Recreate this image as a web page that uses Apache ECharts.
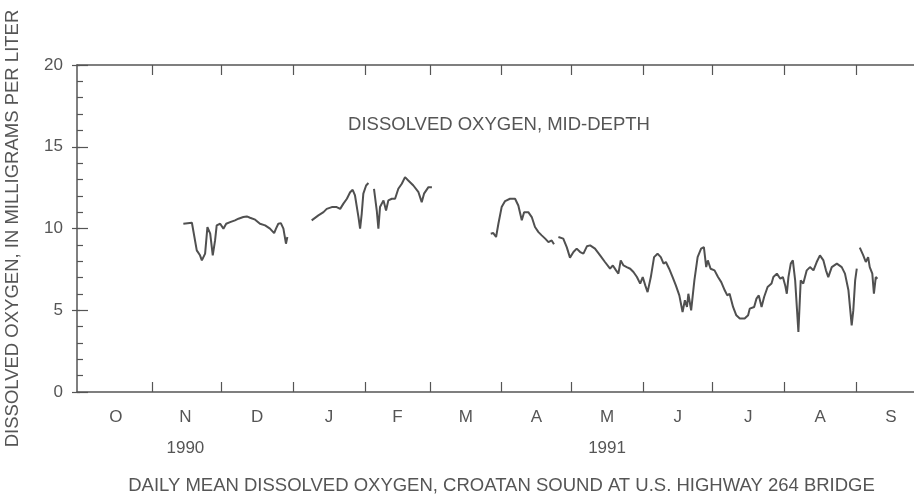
<!DOCTYPE html>
<html>
<head>
<meta charset="utf-8">
<script src="https://cdn.jsdelivr.net/npm/echarts@6/dist/echarts.min.js"></script>
<style>
html,body{margin:0;padding:0;background:#fff;}
#c{width:914px;height:496px;}
</style>
</head>
<body>
<div id="c"></div>
<script>
// Days counted from 1 Oct 1990 (day 0); values in mg/L
const monthLetters = ['O','N','D','J','F','M','A','M','J','J','A','S'];
const monthMid = [15.5,45.5,76.5,107.5,137,166.5,197,227.5,258,288.5,319.5,350];
const monthStart = [31,61,92,123,151,182,212,243,273,304,335];
const yearLabels = {1:'1990', 7:'1991'};

const segNovDec = [[44.6,10.29],[48.3,10.35],[49,10.29],[50.4,8.66],[51.8,8.36],[52.6,8.05],[54,8.46],[55,10.09],[56.2,9.68],[57.3,8.36],[58.3,9.27],[59,10.19],[60.5,10.29],[61.9,9.99],[63.1,10.29],[64.8,10.39],[66.9,10.5],[68.4,10.6],[70.5,10.7],[72,10.74],[73.4,10.66],[75.6,10.54],[77.7,10.29],[79.9,10.19],[82,9.99],[83.8,9.72],[84.6,9.99],[85.6,10.29],[86.7,10.33],[87.8,9.99],[88.9,9.07],[89.5,9.48]];
const segJan = [[100,10.5],[102.9,10.8],[105.1,11.0],[106.5,11.2],[108.7,11.31],[110.8,11.31],[112.3,11.2],[113.7,11.52],[115.2,11.82],[116.6,12.22],[117.7,12.37],[118.7,12.02],[120.2,10.7],[120.9,9.99],[121.6,10.9],[122.3,12.13],[123.5,12.63],[124.5,12.78]];
const segFeb = [[126.9,12.43],[128.1,11.1],[128.8,9.99],[129.5,11.31],[131,11.72],[132.1,11.1],[133.1,11.72],[134.6,11.82],[136,11.82],[137.4,12.43],[138.9,12.74],[140.3,13.14],[141.7,12.94],[143.9,12.63],[146.1,12.22],[147.5,11.61],[148.5,12.13],[150.4,12.53],[151.9,12.53]];
const segApr = [[177.3,9.68],[178.4,9.72],[179.6,9.48],[180.6,10.29],[182,11.31],[183.5,11.68],[185.6,11.82],[187.8,11.82],[189.2,11.41],[190.7,10.5],[191.7,11.0],[193.5,11.0],[195,10.7],[196.4,10.09],[197.9,9.78],[199.3,9.58],[200.8,9.38],[202.2,9.17],[203.6,9.27],[204.6,9.03]];
const segMayAug = [[206.5,9.48],[208.6,9.38],[210.1,8.86],[211.5,8.22],[213,8.56],[214.4,8.77],[215.9,8.56],[217.3,8.46],[218.8,8.91],[220.2,8.97],[222.3,8.77],[224.5,8.36],[226.6,7.95],[228.8,7.54],[230,7.74],[231.4,7.44],[232.4,7.24],[233.4,8.05],[234.6,7.74],[236,7.64],[237.5,7.54],[238.9,7.34],[240.4,7.03],[241.8,6.63],[242.9,7.03],[244,6.52],[245,6.11],[246.4,7.03],[247.8,8.25],[249.3,8.46],[250.7,8.25],[251.9,7.85],[252.9,7.95],[254.3,7.54],[255.8,7.03],[257.2,6.52],[258.7,5.91],[260.1,4.89],[261.1,5.61],[262,5.2],[262.6,6.01],[263.8,4.99],[264.5,5.91],[265.2,6.83],[266.6,8.25],[268.1,8.77],[269.3,8.86],[270.3,7.64],[271,8.05],[272.2,7.54],[273.9,7.44],[275.4,7.03],[276.8,6.72],[278.3,6.22],[279.4,5.91],[280.4,6.01],[281.9,5.2],[283.3,4.69],[284.8,4.49],[286.9,4.49],[288.4,4.69],[289.1,5.1],[291,5.2],[292,5.71],[293,5.91],[294.2,5.2],[295.3,5.81],[296.8,6.42],[298.5,6.63],[299.3,7.03],[300.8,7.24],[302.3,6.93],[303.4,7.03],[304.4,6.52],[305.1,6.01],[305.8,7.03],[306.8,7.85],[307.7,8.05],[308.7,6.83],[310.1,3.67],[311.1,6.83],[312.2,6.63],[313.7,7.44],[315.1,7.64],[316.6,7.44],[318,7.95],[319.4,8.36],[320.9,8.05],[322,7.44],[323,7.03],[324.5,7.64],[326.7,7.85],[328.8,7.64],[330.2,7.24],[331.7,6.22],[333.1,4.08],[333.8,4.99],[334.6,6.83],[335.3,7.54]];
const segSep = [[336.6,8.83],[338.1,8.36],[339.2,7.95],[340.2,8.25],[340.9,7.64],[342,7.24],[342.7,6.01],[343.5,7.03],[344.2,6.93]];

const segments = [segNovDec, segJan, segFeb, segApr, segMayAug, segSep];

const txt = '#555';
const axc = '#555';
const font = '"Liberation Sans", Arial, sans-serif';
const fs = 18.5;

const chart = echarts.init(document.getElementById('c'), null, {renderer:'canvas'});
chart.setOption({
  animation: false,
  backgroundColor: '#fff',
  grid: {left: 77, right: 0, top: 65, bottom: 104, containLabel: false, outerBoundsMode: 'none'},
  xAxis: [{
    type: 'value', min: -1.3, max: 360, position: 'bottom',
    axisLine: {show: true, onZero: false, lineStyle: {color: axc, width: 1.5}},
    axisTick: {show: true, inside: true, length: 10, customValues: monthStart, lineStyle: {color: axc, width: 1.2}},
    splitLine: {show: false},
    axisLabel: {
      customValues: monthMid, margin: 9.5, lineHeight: 31,
      color: txt, fontSize: 17, fontFamily: font,
      formatter: function (v) {
        const i = monthMid.indexOf(v);
        if (i < 0) return '';
        return yearLabels[i] ? monthLetters[i] + '\n' + yearLabels[i] : monthLetters[i];
      }
    },
    name: 'DAILY MEAN DISSOLVED OXYGEN, CROATAN SOUND AT U.S. HIGHWAY 264 BRIDGE',
    nameLocation: 'middle', nameGap: 84,
    nameTextStyle: {color: txt, fontSize: fs, fontFamily: font, padding: [0, 0, 0, 12]}
  }, {
    type: 'value', min: -1.3, max: 360, position: 'top',
    axisLine: {show: true, onZero: false, lineStyle: {color: axc, width: 1.5}},
    axisTick: {show: true, inside: true, length: 10, customValues: monthStart, lineStyle: {color: axc, width: 1.2}},
    axisLabel: {show: false}, splitLine: {show: false}
  }],
  yAxis: [{
    type: 'value', min: 0, max: 20, interval: 5, position: 'left',
    axisLine: {show: true, onZero: false, lineStyle: {color: axc, width: 1.5}},
    axisTick: {show: true, inside: true, length: 11, lineStyle: {color: axc, width: 1.2}},
    minorTick: {show: true, splitNumber: 5, length: 6, lineStyle: {color: axc, width: 1.2}},
    splitLine: {show: false},
    axisLabel: {color: txt, fontSize: 17, fontFamily: font, margin: 14},
    name: 'DISSOLVED OXYGEN, IN MILLIGRAMS PER LITER',
    nameLocation: 'middle', nameGap: 55, nameRotate: 90,
    nameTextStyle: {color: txt, fontSize: fs, fontFamily: font}
  }, {
    type: 'value', min: 0, max: 20, interval: 5, position: 'right',
    axisLine: {show: false},
    axisTick: {show: true, inside: true, length: 8, lineStyle: {color: axc, width: 1.2}},
    axisLabel: {show: false}, splitLine: {show: false}
  }],
  graphic: [{
    type: 'text', x: 499, y: 125,
    style: {text: 'DISSOLVED OXYGEN, MID-DEPTH', fill: txt, font: fs + 'px ' + font, align: 'center', verticalAlign: 'middle'}
  }],
  series: segments.map(function (s) {
    return {
      type: 'line', data: s, showSymbol: false, symbol: 'none',
      xAxisIndex: 0, yAxisIndex: 0,
      lineStyle: {color: '#505050', width: 2}
    };
  })
});
</script>
</body>
</html>
